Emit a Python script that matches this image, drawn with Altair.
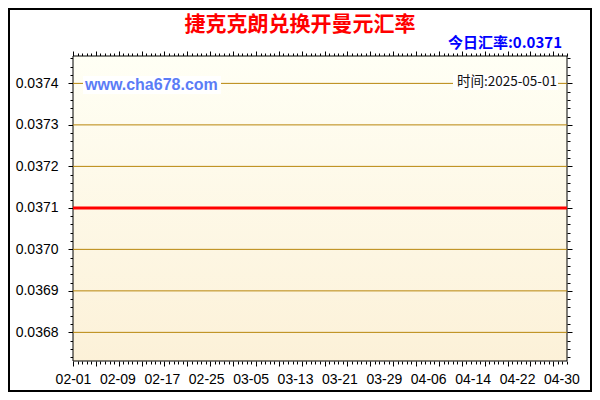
import altair as alt
import pandas as pd

# ---- texts ----
title_text = "捷克克朗兑换开曼元汇率"
rate_text = "今日汇率:0.0371"
site_text = "www.cha678.com"
time_text = "时间:2025-05-01"

# ---- data ----
dates = pd.date_range("2025-02-01", "2025-05-01", freq="D").strftime("%Y-%m-%d").tolist()
rates = [0.0371] * len(dates)

y_label_values = [0.0368, 0.0369, 0.0370, 0.0371, 0.0372, 0.0373, 0.0374]
x_label_dates = ["2025-02-01", "2025-02-09", "2025-02-17", "2025-02-25", "2025-03-05",
                 "2025-03-13", "2025-03-21", "2025-03-29", "2025-04-06", "2025-04-14",
                 "2025-04-22", "2025-04-30"]
y_domain = [0.036731, 0.037466]


def ms(d):
    return int(pd.Timestamp(d, tz="UTC").value // 10**6)


t0 = ms(dates[0])
t1 = ms(dates[-1])
x_label_values = [ms(d) for d in x_label_dates]
n_x_ticks = 108
x_step = (t1 - t0) / n_x_ticks
x_tick_values = [t0 + i * x_step for i in range(n_x_ticks + 1)]
y_tick_values = [round(0.03674 + i * 0.00002, 5) for i in range(37)]

df = pd.DataFrame({"date": dates, "rate": rates})

W, H = 494, 305
FONT = "Liberation Sans"
CJK = "Noto Sans CJK SC"

xs = alt.Scale(type="utc", domain=[t0, t1], nice=False)
ys = alt.Scale(domain=y_domain, nice=False, zero=False)

x_tick_size = {"condition": {"test": f"round((datum.value - {t0}) / {x_step}) % 5 == 0", "value": 5}, "value": 3}
y_tick_size = {"condition": {"test": "round(datum.value * 100000) % 10 == 0", "value": 5}, "value": 3}

one = lambda **kw: alt.Data(values=[kw])

bg = alt.Chart(one(k=1)).mark_rect(
    fill=alt.LinearGradient(
        gradient="linear",
        stops=[alt.GradientStop(color="#FFFFF5", offset=0), alt.GradientStop(color="#FCF1D8", offset=1)],
        x1=0, x2=0, y1=0, y2=1),
    stroke="black", strokeWidth=1,
).encode(x=alt.value(0), x2=alt.value(W), y=alt.value(0), y2=alt.value(H))

grid = alt.Chart(pd.DataFrame({"g": y_label_values})).mark_rule(
    color="#B8860B", strokeWidth=1
).encode(y=alt.Y("g:Q", scale=ys, axis=None))

box1 = alt.Chart(one(k=1)).mark_rect(fill="white").encode(
    x=alt.value(10), x2=alt.value(148), y=alt.value(20), y2=alt.value(38))
box2 = alt.Chart(one(k=1)).mark_rect(fill="white").encode(
    x=alt.value(380), x2=alt.value(485), y=alt.value(19), y2=alt.value(34))

title = alt.Chart(one(t=title_text)).mark_text(
    font=CJK, fontSize=21, fontWeight="bold", color="#FF0000", align="center", baseline="middle"
).encode(x=alt.value(227), y=alt.value(-31.5), text="t:N")

rate = alt.Chart(one(t=rate_text)).mark_text(
    font=CJK, fontSize=15, fontWeight="bold", color="#0000FF", align="right", baseline="middle"
).encode(x=alt.value(489), y=alt.value(-13), text="t:N")

site = alt.Chart(one(t=site_text)).mark_text(
    font=FONT, fontSize=16, fontWeight="bold", color="#5B7CF6", align="left", baseline="middle"
).encode(x=alt.value(12), y=alt.value(29), text="t:N")

tm = alt.Chart(one(t=time_text)).mark_text(
    font=CJK, fontSize=13.5, color="#111111", align="right", baseline="middle"
).encode(x=alt.value(484), y=alt.value(26), text="t:N")

base = alt.Chart(df)

line = base.mark_line(color="#FF0000", strokeWidth=3).encode(
    x=alt.X("date:T", scale=xs, axis=alt.Axis(
        orient="bottom", values=x_label_values,
        labelExpr="utcFormat(datum.value, '%m-%d')",
        ticks=False, tickSize=0, domain=False, grid=False, labelPadding=11,
        labelFont=FONT, labelFontSize=14, labelColor="black", labelAngle=0,
        labelOverlap=False, labelFlush=False, title=None)),
    y=alt.Y("rate:Q", scale=ys, axis=alt.Axis(
        orient="left", values=y_label_values, format=".4f",
        ticks=False, tickSize=0, domain=False, grid=False, labelPadding=15,
        labelFont=FONT, labelFontSize=14, labelColor="black",
        labelOverlap=False, labelFlush=False, title=None)),
)

ticks_a = base.mark_line(opacity=0).encode(
    x=alt.X("date:T", scale=xs, axis=alt.Axis(
        orient="bottom", values=x_tick_values, labels=False, domain=False, grid=False,
        tickSize=x_tick_size, tickColor="black", tickWidth=1, title=None)),
    y=alt.Y("rate:Q", scale=ys, axis=alt.Axis(
        orient="left", values=y_tick_values, labels=False, domain=False, grid=False,
        tickSize=y_tick_size, tickColor="black", tickWidth=1, title=None)),
)

ticks_b = base.mark_line(opacity=0).encode(
    x=alt.X("date:T", scale=xs, axis=alt.Axis(
        orient="top", values=x_tick_values, labels=False, domain=False, grid=False,
        tickSize=x_tick_size, tickColor="black", tickWidth=1, title=None)),
    y=alt.Y("rate:Q", scale=ys, axis=alt.Axis(
        orient="right", values=y_tick_values, labels=False, domain=False, grid=False,
        tickSize=y_tick_size, tickColor="black", tickWidth=1, title=None)),
)

border = alt.Chart(one(k=1)).mark_rect(fillOpacity=0, stroke="black", strokeWidth=2).encode(
    x=alt.value(-64), x2=alt.value(W + 24), y=alt.value(-47), y2=alt.value(H + 30))

chart = alt.layer(
    bg, grid, box1, box2, title, rate, site, tm, line, ticks_a, ticks_b, border
).resolve_axis(x="independent", y="independent").properties(
    width=W, height=H,
    autosize=alt.AutoSizeParams(type="none"),
    padding={"left": 65, "top": 48, "right": 25, "bottom": 31},
    background="white",
).configure_view(stroke="transparent")

chart.save("out.html", embed_options={"renderer": "svg", "actions": False})
